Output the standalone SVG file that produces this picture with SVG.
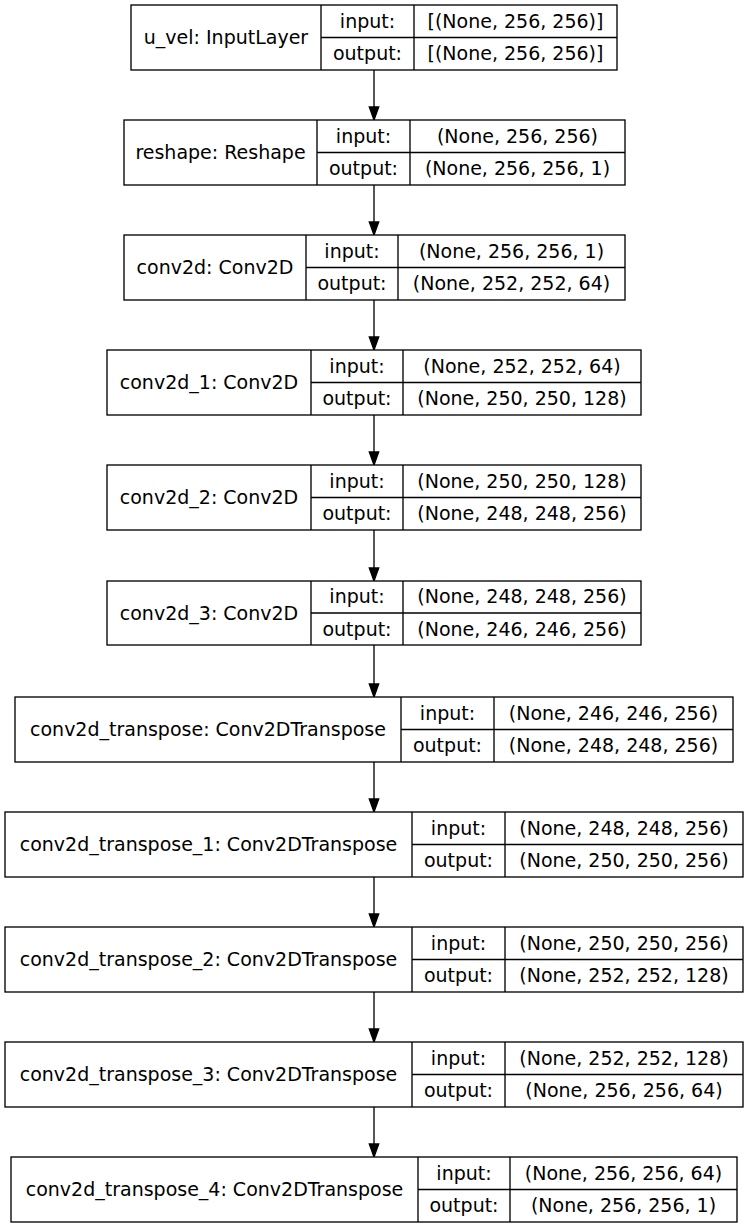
<svg xmlns="http://www.w3.org/2000/svg" width="749" height="1229" viewBox="0 0 749 1229">
<style>
.b{fill:#fff;stroke:#000;stroke-width:1.33}
.l{stroke:#000;stroke-width:1.33;fill:none}
text{font-family:"DejaVu Sans","Liberation Sans",sans-serif;font-size:19px;fill:#000;text-anchor:middle}
.e{stroke:#000;stroke-width:1.33}
.h{fill:#000;stroke:#000;stroke-width:1.33}
</style>
<rect width="749" height="1229" fill="#fff"/>
<g id="connectors">
<line class="e" x1="374" y1="70" x2="374" y2="107"/><polygon class="h" points="369.3,107 378.7,107 374,120"/>
<line class="e" x1="374" y1="185" x2="374" y2="222"/><polygon class="h" points="369.3,222 378.7,222 374,235"/>
<line class="e" x1="374" y1="300" x2="374" y2="337"/><polygon class="h" points="369.3,337 378.7,337 374,350"/>
<line class="e" x1="374" y1="415" x2="374" y2="452"/><polygon class="h" points="369.3,452 378.7,452 374,465"/>
<line class="e" x1="374" y1="530" x2="374" y2="568"/><polygon class="h" points="369.3,568 378.7,568 374,581"/>
<line class="e" x1="374" y1="645" x2="374" y2="684"/><polygon class="h" points="369.3,684 378.7,684 374,697"/>
<line class="e" x1="374" y1="762" x2="374" y2="799"/><polygon class="h" points="369.3,799 378.7,799 374,812"/>
<line class="e" x1="374" y1="877" x2="374" y2="914"/><polygon class="h" points="369.3,914 378.7,914 374,927"/>
<line class="e" x1="374" y1="992" x2="374" y2="1029"/><polygon class="h" points="369.3,1029 378.7,1029 374,1042"/>
<line class="e" x1="374" y1="1107" x2="374" y2="1144"/><polygon class="h" points="369.3,1144 378.7,1144 374,1157"/>
</g>
<g id="n1">
<rect class="b" x="131" y="5" width="486" height="65"/>
<path class="l" d="M321,5V70M414,5V70M321,37.5H617"/>
<text x="226" y="44">u_vel: InputLayer</text>
<text x="367.5" y="27.5">input:</text><text x="367.5" y="60">output:</text>
<text x="515.5" y="27.5">[(None, 256, 256)]</text><text x="515.5" y="60">[(None, 256, 256)]</text>
</g>
<g id="n2">
<rect class="b" x="124" y="120" width="501" height="65"/>
<path class="l" d="M317,120V185M410,120V185M317,152.5H625"/>
<text x="220.5" y="159">reshape: Reshape</text>
<text x="363.5" y="142.5">input:</text><text x="363.5" y="175">output:</text>
<text x="517.5" y="142.5">(None, 256, 256)</text><text x="517.5" y="175">(None, 256, 256, 1)</text>
</g>
<g id="n3">
<rect class="b" x="124" y="235" width="501" height="65"/>
<path class="l" d="M306,235V300M398,235V300M306,267.5H625"/>
<text x="215" y="274">conv2d: Conv2D</text>
<text x="352" y="257.5">input:</text><text x="352" y="290">output:</text>
<text x="511.5" y="257.5">(None, 256, 256, 1)</text><text x="511.5" y="290">(None, 252, 252, 64)</text>
</g>
<g id="n4">
<rect class="b" x="107" y="350" width="534" height="65"/>
<path class="l" d="M311,350V415M403,350V415M311,382.5H641"/>
<text x="209" y="389">conv2d_1: Conv2D</text>
<text x="357" y="372.5">input:</text><text x="357" y="405">output:</text>
<text x="522" y="372.5">(None, 252, 252, 64)</text><text x="522" y="405">(None, 250, 250, 128)</text>
</g>
<g id="n5">
<rect class="b" x="107" y="465" width="534" height="65"/>
<path class="l" d="M311,465V530M403,465V530M311,497.5H641"/>
<text x="209" y="504">conv2d_2: Conv2D</text>
<text x="357" y="487.5">input:</text><text x="357" y="520">output:</text>
<text x="522" y="487.5">(None, 250, 250, 128)</text><text x="522" y="520">(None, 248, 248, 256)</text>
</g>
<g id="n6">
<rect class="b" x="107" y="581" width="534" height="64"/>
<path class="l" d="M311,581V645M403,581V645M311,613H641"/>
<text x="209" y="619.5">conv2d_3: Conv2D</text>
<text x="357" y="603">input:</text><text x="357" y="635.5">output:</text>
<text x="522" y="603">(None, 248, 248, 256)</text><text x="522" y="635.5">(None, 246, 246, 256)</text>
</g>
<g id="n7">
<rect class="b" x="15" y="697" width="718" height="65"/>
<path class="l" d="M401,697V762M494,697V762M401,729.5H733"/>
<text x="208" y="736">conv2d_transpose: Conv2DTranspose</text>
<text x="447.5" y="719.5">input:</text><text x="447.5" y="752">output:</text>
<text x="613.5" y="719.5">(None, 246, 246, 256)</text><text x="613.5" y="752">(None, 248, 248, 256)</text>
</g>
<g id="n8">
<rect class="b" x="5" y="812" width="738" height="65"/>
<path class="l" d="M412,812V877M505,812V877M412,844.5H743"/>
<text x="208.5" y="851">conv2d_transpose_1: Conv2DTranspose</text>
<text x="458.5" y="834.5">input:</text><text x="458.5" y="867">output:</text>
<text x="624" y="834.5">(None, 248, 248, 256)</text><text x="624" y="867">(None, 250, 250, 256)</text>
</g>
<g id="n9">
<rect class="b" x="5" y="927" width="738" height="65"/>
<path class="l" d="M412,927V992M505,927V992M412,959.5H743"/>
<text x="208.5" y="966">conv2d_transpose_2: Conv2DTranspose</text>
<text x="458.5" y="949.5">input:</text><text x="458.5" y="982">output:</text>
<text x="624" y="949.5">(None, 250, 250, 256)</text><text x="624" y="982">(None, 252, 252, 128)</text>
</g>
<g id="n10">
<rect class="b" x="5" y="1042" width="738" height="65"/>
<path class="l" d="M412,1042V1107M505,1042V1107M412,1074.5H743"/>
<text x="208.5" y="1081">conv2d_transpose_3: Conv2DTranspose</text>
<text x="458.5" y="1064.5">input:</text><text x="458.5" y="1097">output:</text>
<text x="624" y="1064.5">(None, 252, 252, 128)</text><text x="624" y="1097">(None, 256, 256, 64)</text>
</g>
<g id="n11">
<rect class="b" x="11" y="1157" width="726" height="65"/>
<path class="l" d="M418,1157V1222M510,1157V1222M418,1189.5H737"/>
<text x="214.5" y="1196">conv2d_transpose_4: Conv2DTranspose</text>
<text x="464" y="1179.5">input:</text><text x="464" y="1212">output:</text>
<text x="623.5" y="1179.5">(None, 256, 256, 64)</text><text x="623.5" y="1212">(None, 256, 256, 1)</text>
</g>
</svg>
